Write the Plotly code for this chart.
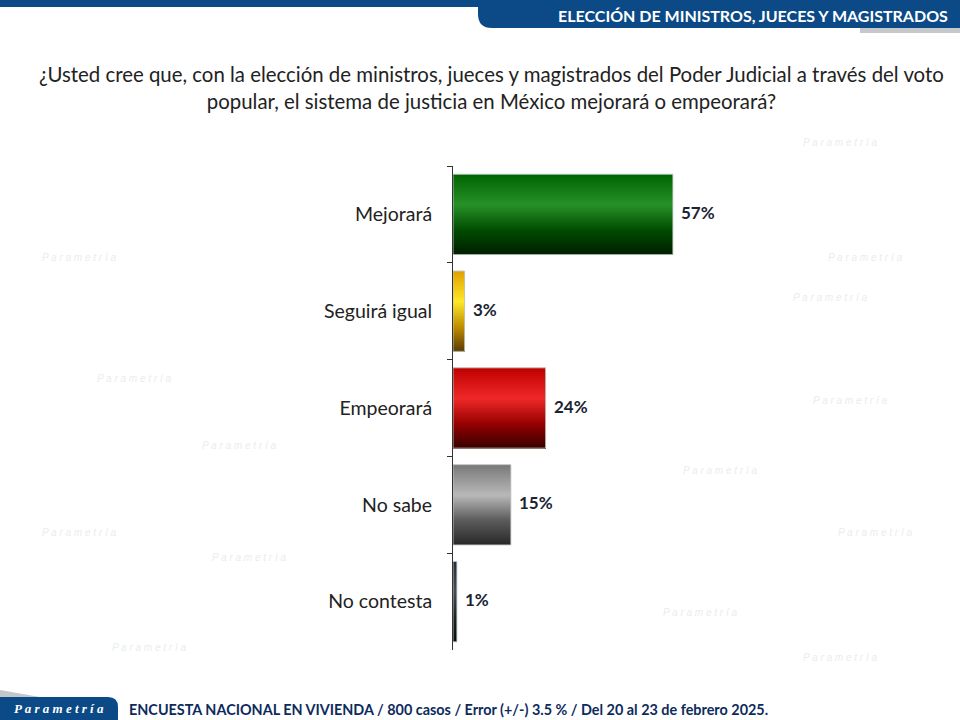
import plotly.graph_objects as go

categories = ["Mejorará", "Seguirá igual", "Empeorará", "No sabe", "No contesta"]
values = [57, 3, 24, 15, 1]
value_labels = ["57%", "3%", "24%", "15%", "1%"]

title_text = ("¿Usted cree que, con la elección de ministros, jueces y magistrados del Poder Judicial a través del voto<br>"
              "popular, el sistema de justicia en México mejorará o empeorará?")
header_text = "ELECCIÓN DE MINISTROS, JUECES Y MAGISTRADOS"
footer_text = "ENCUESTA NACIONAL EN VIVIENDA / 800 casos / Error (+/-) 3.5 % / Del 20 al 23 de febrero 2025."

# gradient stops per bar: (position 0=top .. 1=bottom, rgb)
gradients = [
    [(0.0, (0, 100, 0)), (0.38, (40, 145, 40)), (0.7, (0, 75, 0)), (1.0, (0, 30, 0))],
    [(0.0, (225, 160, 0)), (0.38, (255, 232, 40)), (0.7, (190, 140, 0)), (1.0, (90, 60, 5))],
    [(0.0, (190, 0, 0)), (0.38, (240, 40, 40)), (0.7, (150, 0, 0)), (1.0, (55, 0, 0))],
    [(0.0, (120, 120, 120)), (0.38, (185, 185, 185)), (0.7, (90, 90, 90)), (1.0, (40, 40, 40))],
    [(0.0, (40, 45, 55)), (0.38, (70, 75, 85)), (0.7, (30, 32, 40)), (1.0, (10, 12, 18))],
]


def interp(stops, t):
    for (p0, c0), (p1, c1) in zip(stops[:-1], stops[1:]):
        if p0 <= t <= p1:
            f = (t - p0) / (p1 - p0)
            return "rgb(%d,%d,%d)" % tuple(round(a + (b - a) * f) for a, b in zip(c0, c1))
    return "rgb(%d,%d,%d)" % stops[-1][1]


BAR_W = 0.83
N_BANDS = 40
bw = BAR_W / N_BANDS
fig = go.Figure()
for i in range(N_BANDS):
    t = (i + 0.5) / N_BANDS
    fig.add_trace(go.Bar(
        x=values, y=categories, orientation="h",
        width=[BAR_W - i * bw] * len(values), offset=[-BAR_W / 2 + i * bw] * len(values),
        marker=dict(color=[interp(g, t) for g in gradients], line=dict(width=0)),
        hoverinfo="skip", showlegend=False,
    ))
# outline
fig.add_trace(go.Bar(
    x=values, y=categories, orientation="h",
    width=[BAR_W] * len(values), offset=[-BAR_W / 2] * len(values),
    marker=dict(color="rgba(0,0,0,0)", line=dict(color="rgba(190,200,190,0.9)", width=1)),
    hoverinfo="skip", showlegend=False,
))

for c, v, lab in zip(categories, values, value_labels):
    fig.add_annotation(x=v, y=c, text="<b>%s</b>" % lab, showarrow=False,
                       xanchor="left", xshift=6, yshift=2,
                       font=dict(family="Lato", size=17, color="#1b2333"))

PX0, PY0, PW, PH = 453, 650, 270, 484


def PX(px):
    return (px - PX0) / PW


def PY(py):
    return (PY0 - py) / PH


def P(px, py):
    return "%.5f,%.5f" % (PX(px), PY(py))


# faint watermarks in empty areas
wm = [(880, 135), (40, 250), (905, 250), (870, 290), (95, 378), (890, 400), (200, 445),
      (40, 540), (915, 540), (210, 565), (760, 470), (740, 620), (110, 655), (880, 665)]
for (px, py) in wm:
    fig.add_annotation(xref="paper", yref="paper", x=PX(px), y=PY(py),
                       text="<i>P a r a m e t r í a</i>", showarrow=False,
                       font=dict(family="Liberation Sans", size=10, color="#e8edf1"))

# top thin bar
fig.add_shape(type="rect", xref="paper", yref="paper", x0=PX(0), x1=PX(960),
              y0=PY(7), y1=PY(0), fillcolor="#0b4a86", line_width=0)
# header banner with rounded bottom-left corner
fig.add_shape(type="path", xref="paper", yref="paper",
              path="M %s L %s L %s L %s Q %s %s Z" % (P(478, 0), P(960, 0), P(960, 28), P(492, 28), P(478, 28), P(478, 14)),
              fillcolor="#0b4a86", line_width=0)
fig.add_shape(type="rect", xref="paper", yref="paper", x0=PX(860), x1=PX(960),
              y0=PY(33), y1=PY(28), fillcolor="rgba(160,165,170,0.6)", line_width=0)
fig.add_annotation(xref="paper", yref="paper", x=PX(950), y=PY(15),
                   text="<b>%s</b>" % header_text, showarrow=False, xanchor="right", yanchor="middle",
                   font=dict(family="Lato", size=16, color="white"))

# footer tab
fig.add_shape(type="path", xref="paper", yref="paper",
              path="M %s L %s L %s Q %s %s L %s Z" % (P(0, 720), P(0, 697), P(108, 697), P(118, 697), P(118, 707), P(118, 720)),
              fillcolor="#0b4a86", line_width=0)
fig.add_shape(type="path", xref="paper", yref="paper",
              path="M %s L %s L %s Z" % (P(0, 690), P(40, 697), P(0, 697)),
              fillcolor="rgba(170,175,180,0.7)", line_width=0)
fig.add_annotation(xref="paper", yref="paper", x=PX(59), y=PY(708),
                   text="<b><i>P a r a m e t r í a</i></b>", showarrow=False, xanchor="center", yanchor="middle",
                   font=dict(family="Liberation Serif", size=13, color="white"))
fig.add_annotation(xref="paper", yref="paper", x=PX(127), y=PY(709),
                   text="<b>%s</b>" % footer_text, showarrow=False, xanchor="left", yanchor="middle",
                   font=dict(family="Lato", size=14.4, color="#0d2a5c"))

# question
fig.add_annotation(xref="paper", yref="paper", x=PX(491), y=PY(88),
                   text=title_text, showarrow=False, xanchor="center", yanchor="middle",
                   font=dict(family="Lato", size=20.4, color="#222222"))

fig.update_layout(
    width=960, height=720,
    margin=dict(l=453, r=237, t=166, b=70),
    paper_bgcolor="white", plot_bgcolor="rgba(0,0,0,0)",
    barmode="overlay", bargap=0.17,
    showlegend=False,
    xaxis=dict(range=[0, 70], visible=False, fixedrange=True),
    yaxis=dict(autorange="reversed", type="category", tickson="boundaries",
               ticks="outside", ticklen=5, tickcolor="#333", showline=True, linecolor="#333", linewidth=1,
               showgrid=False, tickfont=dict(family="Lato", size=19.5, color="#222222"), ticklabelstandoff=16),
)
fig.write_html("out.html")
